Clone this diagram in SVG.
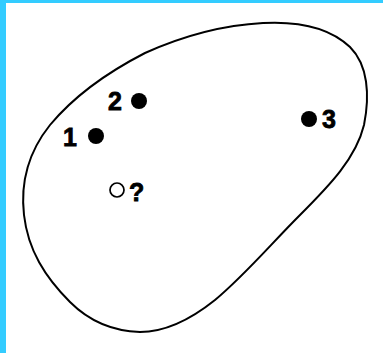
<svg xmlns="http://www.w3.org/2000/svg" width="383" height="353" viewBox="0 0 383 353">
<style>
.lbl{font-family:"Liberation Sans",Arial,sans-serif;font-weight:bold;font-size:25px;fill:#000;stroke:#000;stroke-width:0.8}
.dot{fill:#000}
.open{fill:#fff;stroke:#000;stroke-width:1.7}
.blob{fill:#fff;stroke:#000;stroke-width:2}
</style>
<rect x="0" y="0" width="383" height="353" fill="#33ccff"/>
<rect x="6" y="3" width="377" height="350" fill="#fff"/>
<g id="region">
<path class="blob" d="M263,23 C300,21 330,28 350,47 C368,65 370,95 364,125 C356,158 330,185 300,215 C270,245 245,275 215,300 C190,320 165,332 140,332 C110,331 88,320 70,302 C45,277 28,250 24,215 C20,180 30,150 50,125 C75,95 108,72 145,53 C185,35 225,25 263,23 Z"/>
</g>
<g id="p1"><circle class="dot" cx="96" cy="136" r="8"/><text class="lbl" x="63" y="146">1</text></g>
<g id="p2"><circle class="dot" cx="139" cy="101" r="8"/><text class="lbl" x="108" y="110">2</text></g>
<g id="p3"><circle class="dot" cx="309" cy="119" r="8"/><text class="lbl" x="322" y="128">3</text></g>
<g id="q"><circle class="open" cx="117" cy="190" r="7"/><text class="lbl" x="129" y="201">?</text></g>
<g id="connectors"></g>
</svg>
